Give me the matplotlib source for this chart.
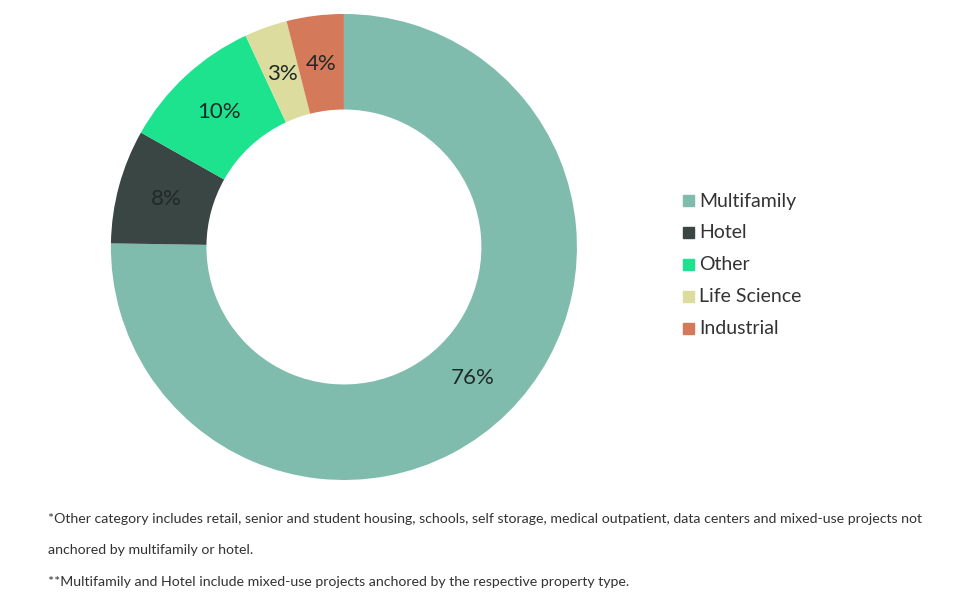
import numpy as np
import matplotlib.pyplot as plt
from matplotlib.patches import Rectangle

categories = ["Multifamily", "Hotel", "Other", "Life Science", "Industrial"]
shares = [76, 8, 10, 3, 4]
labels = ["76%", "8%", "10%", "3%", "4%"]
colors = ["#80bcad", "#3a4644", "#1de38f", "#dcdc9e", "#d4795a"]

plt.rcParams["font.family"] = "Lato"

fig = plt.figure(figsize=(9.56, 6), dpi=100)
ax = fig.add_axes([0.116, 0.2, 0.4875, 0.7767])

wedges, _ = ax.pie(shares, colors=colors, startangle=90, counterclock=False,
                   wedgeprops=dict(width=0.41, linewidth=0))
ax.set_xlim(-1, 1)
ax.set_ylim(-1, 1)
ax.set_aspect("equal")

for w, lab in zip(wedges, labels):
    mid = np.deg2rad((w.theta1 + w.theta2) / 2)
    r = 0.79
    ax.text(r * np.cos(mid), r * np.sin(mid), lab, ha="center", va="center",
            fontsize=16, color="#1f2a28")

# legend
for i, (cat, c) in enumerate(zip(categories, colors)):
    y = 1 - (201 + i * 31.8) / 600
    fig.patches.append(Rectangle((683 / 956, y - 0.009), 11 / 956, 11 / 600,
                                 transform=fig.transFigure, color=c))
    fig.text(699 / 956, y, cat, fontsize=14, va="center", color="#333333")

notes = [
    ("*Other category includes retail, senior and student housing, schools, self storage, "
     "medical outpatient, data centers and mixed-use projects not", 519),
    ("anchored by multifamily or hotel.", 550),
    ("**Multifamily and Hotel include mixed-use projects anchored by the respective property type.", 582),
]
for t, yp in notes:
    fig.text(48 / 956, 1 - yp / 600, t, fontsize=10.2, va="center", color="#333333")

fig.savefig("out.png", dpi=100)
